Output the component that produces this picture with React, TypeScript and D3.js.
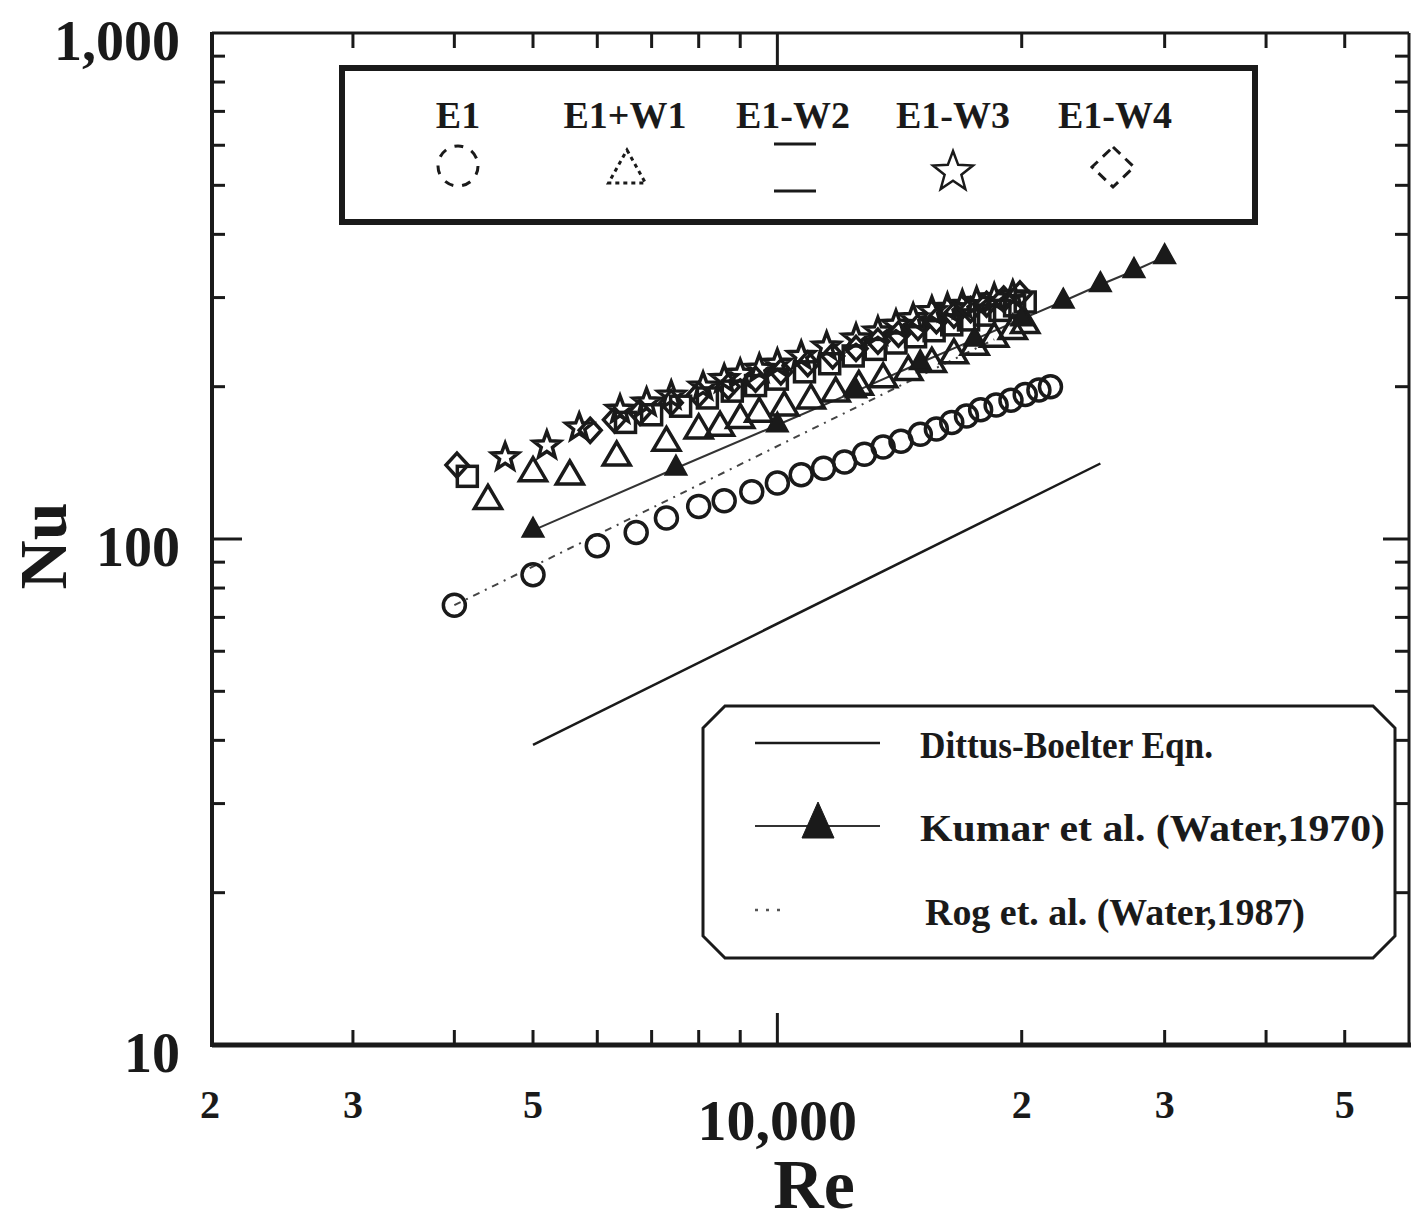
import React from 'react';
import * as d3 from 'd3';

const W = 1411;
const H = 1230;

const RE_DOMAIN: [number, number] = [2000, 60000];
const NU_DOMAIN: [number, number] = [10, 1000];

const X_MINOR_TICKS = [3000, 4000, 5000, 6000, 7000, 8000, 9000, 20000, 30000, 40000, 50000];
const X_MAJOR_TICKS = [10000];
const Y_MINOR_TICKS = [20, 30, 40, 50, 60, 70, 80, 90, 200, 300, 400, 500, 600, 700, 800, 900];
const Y_MAJOR_TICKS = [100];

const X_SMALL_LABELS: [number, string][] = [[2000, '2'], [3000, '3'], [5000, '5'], [20000, '2'], [30000, '3'], [50000, '5']];
const X_BIG_LABELS: [number, string][] = [[10000, '10,000']];
const Y_LABELS: [number, string][] = [[1000, '1,000'], [100, '100'], [10, '10']];

// Experimental series [Re, Nu]
const E1: [number, number][] = [
  [4000, 74], [5000, 85], [6000, 97], [6700, 103], [7300, 110], [8000, 116], [8600, 119],
  [9300, 124], [10000, 129], [10700, 134], [11400, 138], [12100, 142], [12800, 147],
  [13500, 152], [14200, 156], [15000, 161], [15700, 165], [16400, 170], [17100, 175],
  [17800, 180], [18600, 184], [19400, 188], [20200, 193], [21000, 197], [21700, 200],
];
const E1_W1: [number, number][] = [
  [4400, 119], [5000, 135], [5550, 133], [6340, 145], [7300, 155], [8000, 164], [8500, 166],
  [9000, 172], [9500, 177], [10200, 182], [11000, 188], [11800, 194], [12600, 200],
  [13500, 207], [14500, 214], [15500, 222], [16500, 231], [17500, 240], [18500, 249],
  [19500, 258], [20200, 265],
];
const E1_W2: [number, number][] = [
  [4150, 133], [6500, 170], [7000, 176], [7600, 183], [8200, 190], [8800, 196], [9400, 201],
  [10000, 207], [10800, 214], [11600, 222], [12400, 230], [13200, 237], [14000, 244],
  [14800, 251], [15600, 258], [16400, 265], [17200, 271], [18000, 277], [18800, 283],
  [19600, 289], [20200, 294],
];
const E1_W3: [number, number][] = [
  [4620, 145], [5200, 153], [5700, 166], [6400, 180], [6900, 186], [7400, 192], [8100, 200],
  [8600, 207], [9000, 212], [9500, 217], [10000, 222], [10700, 230], [11500, 240],
  [12500, 249], [13300, 257], [14000, 265], [14700, 273], [15500, 282], [16200, 286],
  [16900, 290], [17600, 294], [18500, 299], [19500, 303],
];
const E1_W4: [number, number][] = [
  [4030, 140], [5880, 164], [6300, 172], [6770, 178], [7400, 186], [8000, 193], [8700, 200],
  [9400, 207], [10100, 214], [10900, 222], [11700, 230], [12500, 238], [13300, 246],
  [14100, 254], [14900, 262], [15700, 270], [16500, 277], [17300, 284], [18100, 291],
  [19000, 298], [19900, 305],
];

// Correlations [Re, Nu]
const DITTUS_BOELTER: [number, number][] = [[5000, 39.2], [25000, 141]];
const KUMAR: [number, number][] = [
  [5000, 104], [7500, 138], [10000, 168], [12500, 196], [15000, 223], [17500, 248],
  [20000, 272], [22500, 295], [25000, 318], [27500, 339], [30000, 361],
];
const ROG: [number, number][] = [[4000, 74], [18500, 248]];

const TOP_LEGEND = ['E1', 'E1+W1', 'E1-W2', 'E1-W3', 'E1-W4'];
const BOTTOM_LEGEND = ['Dittus-Boelter Eqn.', 'Kumar et al. (Water,1970)', 'Rog et. al. (Water,1987)'];

const FONT = '"Liberation Serif", "Times New Roman", serif';
const INK = '#1a1a1a';

function trianglePath(w: number, h: number) {
  return `M0,${-h * 2 / 3}L${w / 2},${h / 3}L${-w / 2},${h / 3}Z`;
}
function starPath(R: number) {
  const r = R * 0.42;
  const pts: string[] = [];
  for (let i = 0; i < 10; i++) {
    const a = -Math.PI / 2 + (i * Math.PI) / 5;
    const rad = i % 2 === 0 ? R : r;
    pts.push(`${(rad * Math.cos(a)).toFixed(2)},${(rad * Math.sin(a)).toFixed(2)}`);
  }
  return 'M' + pts.join('L') + 'Z';
}
function diamondPath(rx: number, ry: number) {
  return `M0,${-ry}L${rx},0L0,${ry}L${-rx},0Z`;
}

export default function App() {
  const x = d3.scaleLog().domain(RE_DOMAIN).range([210, 1409]);
  const y = d3.scaleLog().domain(NU_DOMAIN).range([1045, 33]);
  const line = d3.line<[number, number]>().x((d) => x(d[0])).y((d) => y(d[1]));

  const left = 212, right = 1409, top = 33, bottom = 1045;

  const legendX0 = 703, legendY0 = 706, legendX1 = 1395, legendY1 = 958, c = 22;
  const octagon = `M${legendX0 + c},${legendY0}L${legendX1 - c},${legendY0}L${legendX1},${legendY0 + c}L${legendX1},${legendY1 - c}L${legendX1 - c},${legendY1}L${legendX0 + c},${legendY1}L${legendX0},${legendY1 - c}L${legendX0},${legendY0 + c}Z`;

  const topLegendX = [458, 625, 793, 953, 1115];
  const bottomTextLen = [293, 465, 380];
  const bottomRowY = [743, 826, 910];

  return (
    <svg width={W} height={H} viewBox={`0 0 ${W} ${H}`} style={{ display: 'block', position: 'absolute', left: 0, top: 0, background: '#fff' }}>
      <rect x={0} y={0} width={W} height={H} fill="#fff" />

      {/* ticks */}
      <g stroke={INK} strokeWidth={3}>
        {X_MINOR_TICKS.map((v) => (
          <g key={'xm' + v}>
            <line x1={x(v)} x2={x(v)} y1={bottom} y2={bottom - 15} />
            <line x1={x(v)} x2={x(v)} y1={top} y2={top + 15} />
          </g>
        ))}
        {X_MAJOR_TICKS.map((v) => (
          <g key={'xM' + v}>
            <line x1={x(v)} x2={x(v)} y1={bottom} y2={bottom - 32} />
            <line x1={x(v)} x2={x(v)} y1={top} y2={top + 32} />
          </g>
        ))}
        {Y_MINOR_TICKS.map((v) => (
          <g key={'ym' + v}>
            <line x1={left} x2={left + 13} y1={y(v)} y2={y(v)} />
            <line x1={right} x2={right - 14} y1={y(v)} y2={y(v)} />
          </g>
        ))}
        {Y_MAJOR_TICKS.map((v) => (
          <g key={'yM' + v}>
            <line x1={left} x2={left + 30} y1={y(v)} y2={y(v)} />
            <line x1={right} x2={right - 26} y1={y(v)} y2={y(v)} />
          </g>
        ))}
      </g>

      {/* frame */}
      <line x1={left} x2={right} y1={top} y2={top} stroke={INK} strokeWidth={3} />
      <line x1={left} x2={right + 2} y1={bottom} y2={bottom} stroke={INK} strokeWidth={5} />
      <line x1={left} x2={left} y1={top - 1} y2={bottom + 2} stroke={INK} strokeWidth={4} />
      <line x1={right} x2={right} y1={top} y2={bottom} stroke={INK} strokeWidth={3} />

      {/* tick labels */}
      <g fontFamily={FONT} fontWeight="bold" fill={INK}>
        {Y_LABELS.map(([v, t]) => (
          <text key={'yl' + v} x={180} y={y(v) + 8} fontSize={56} textAnchor="end" dominantBaseline="central">{t}</text>
        ))}
        {X_SMALL_LABELS.map(([v, t], i) => (
          <text key={'xl' + i} x={x(v)} y={1118} fontSize={40} textAnchor="middle">{t}</text>
        ))}
        {X_BIG_LABELS.map(([v, t]) => (
          <text key={'xb' + v} x={x(v)} y={1140} fontSize={58} textAnchor="middle">{t}</text>
        ))}
        <text x={814} y={1208} fontSize={70} textAnchor="middle">Re</text>
        <text transform="translate(66,546) rotate(-90)" fontSize={68} textAnchor="middle">Nu</text>
      </g>

      {/* correlation lines */}
      <path d={line(DITTUS_BOELTER) || ''} fill="none" stroke={INK} strokeWidth={2.5} />
      <path d={line(KUMAR) || ''} fill="none" stroke="#333" strokeWidth={2} />
      <path d={line(ROG) || ''} fill="none" stroke="#444" strokeWidth={2} strokeDasharray="7,6,2,6" />

      {/* experimental markers */}
      <g fill="none" stroke={INK} strokeWidth={3.5}>
        {E1.map((d, i) => (
          <circle key={'e1' + i} cx={x(d[0])} cy={y(d[1])} r={11} />
        ))}
        {E1_W1.map((d, i) => (
          <path key={'w1' + i} transform={`translate(${x(d[0])},${y(d[1])})`} d={trianglePath(27, 23)} />
        ))}
        {E1_W2.map((d, i) => (
          <rect key={'w2' + i} x={x(d[0]) - 10} y={y(d[1]) - 10} width={20} height={20} />
        ))}
        {E1_W3.map((d, i) => (
          <path key={'w3' + i} transform={`translate(${x(d[0])},${y(d[1])})`} d={starPath(14)} />
        ))}
        {E1_W4.map((d, i) => (
          <path key={'w4' + i} transform={`translate(${x(d[0])},${y(d[1])})`} d={diamondPath(11, 12)} />
        ))}
      </g>
      <g fill={INK} stroke={INK} strokeWidth={1.5}>
        {KUMAR.map((d, i) => (
          <path key={'k' + i} transform={`translate(${x(d[0])},${y(d[1])})`} d={trianglePath(22, 20)} />
        ))}
      </g>

      {/* top legend */}
      <rect x={342} y={68} width={913} height={154} fill="#fff" stroke={INK} strokeWidth={6} />
      <g fontFamily={FONT} fontWeight="bold" fontSize={38} fill={INK} textAnchor="middle">
        {TOP_LEGEND.map((t, i) => (
          <text key={'tl' + i} x={topLegendX[i]} y={128}>{t}</text>
        ))}
      </g>
      <g fill="none" stroke={INK} strokeWidth={3}>
        <circle cx={topLegendX[0]} cy={166} r={20} strokeDasharray="9,9" />
        <path transform={`translate(${topLegendX[1] + 2},${172})`} d={trianglePath(37, 33)} strokeDasharray="4,4" />
        <rect x={topLegendX[2] - 21 + 2} y={144} width={42} height={47} strokeDasharray="42,47" />
        <path transform={`translate(${topLegendX[3]},${172})`} d={starPath(21)} strokeWidth={2.5} />
        <path transform={`translate(${topLegendX[4] - 2},${167})`} d={diamondPath(21, 20)} strokeDasharray="10,7" />
      </g>

      {/* bottom legend */}
      <path d={octagon} fill="#fff" stroke={INK} strokeWidth={3} />
      <line x1={755} x2={880} y1={bottomRowY[0]} y2={bottomRowY[0]} stroke={INK} strokeWidth={2.5} />
      <line x1={755} x2={880} y1={bottomRowY[1]} y2={bottomRowY[1]} stroke="#333" strokeWidth={2} />
      <path transform={`translate(818,${bottomRowY[1]})`} d={trianglePath(32, 36)} fill={INK} stroke={INK} />
      <line x1={755} x2={780} y1={bottomRowY[2]} y2={bottomRowY[2]} stroke="#555" strokeWidth={2.5} strokeDasharray="3,8" />
      <g fontFamily={FONT} fontWeight="bold" fontSize={38} fill={INK}>
        {BOTTOM_LEGEND.map((t, i) => (
          <text key={'bl' + i} x={i === 2 ? 925 : 920} y={bottomRowY[i] + 15} textLength={bottomTextLen[i]} lengthAdjust="spacingAndGlyphs">{t}</text>
        ))}
      </g>
    </svg>
  );
}
